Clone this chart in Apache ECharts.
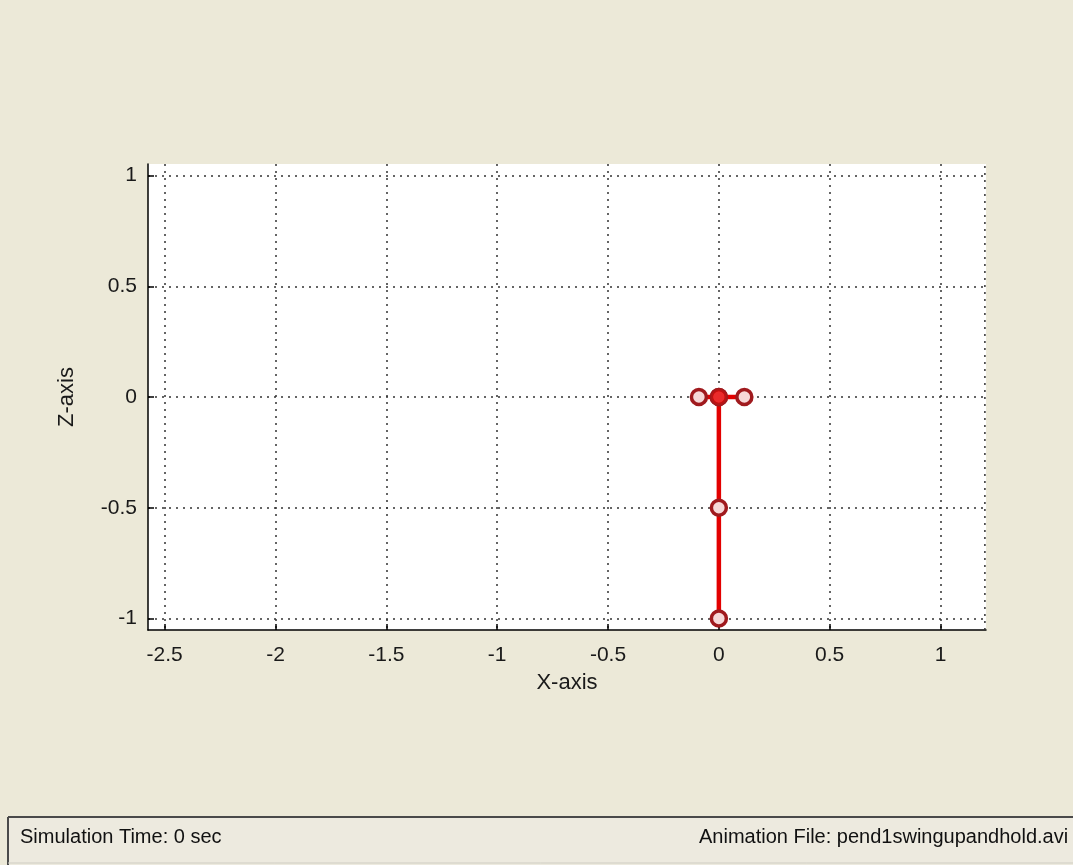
<!DOCTYPE html>
<html>
<head>
<meta charset="utf-8">
<script src="https://cdn.jsdelivr.net/npm/echarts@6/dist/echarts.min.js"></script>
<style>
html,body{margin:0;padding:0;background:#ECE9D8;}
#chart{width:1073px;height:865px;}
</style>
</head>
<body>
<div id="chart"></div>
<script>
// ---- data ----
var xTicks = [-2.5, -2, -1.5, -1, -0.5, 0, 0.5, 1];
var zTicks = [-1, -0.5, 0, 0.5, 1];
var xRange = [-2.575, 1.205];
var zRange = [-1.052, 1.052];
var cartX = [-0.09, 0, 0.115];
var cartZ = [0, 0, 0];
var poleX = [0, 0, 0];
var poleZ = [0, -0.5, -1];
var pivotX = [0];
var pivotZ = [0];
var trackEndX = [1.2];
var statusLeft = 'Simulation Time: 0 sec';
var statusRight = 'Animation File: pend1swingupandhold.avi';

function pairs(xs, zs){ return xs.map(function(v,i){ return [v, zs[i]]; }); }

var gridDot = {color:'#333', width:1.5, type:[2,5]};
var lab = {color:'#1a1a1a', fontFamily:'Liberation Sans', fontSize:21};
var nameLab = {color:'#1a1a1a', fontFamily:'Liberation Sans', fontSize:22};
var ringStyle = {color:'#f7d8d8', borderColor:'#a01a1e', borderWidth:3.5};

var chart = echarts.init(document.getElementById('chart'), null, {renderer:'canvas'});
chart.setOption({
  animation:false,
  backgroundColor:'#ECE9D8',
  grid:{left:148, right:87, top:164, bottom:235, show:true, backgroundColor:'#ffffff', borderWidth:0},
  xAxis:{
    type:'value', min:xRange[0], max:xRange[1],
    name:'X-axis', nameLocation:'middle', nameGap:42,
    nameTextStyle:nameLab,
    axisLine:{show:true, onZero:false, lineStyle:{color:'#000', width:1.5}},
    axisTick:{show:true, inside:true, length:6, customValues:xTicks, lineStyle:{color:'#000', width:1.5}},
    axisLabel:Object.assign({customValues:xTicks, margin:15, formatter:function(v){return String(v);}}, lab),
    splitLine:{show:true, lineStyle:gridDot}
  },
  yAxis:{
    type:'value', min:zRange[0], max:zRange[1],
    name:'Z-axis', nameLocation:'middle', nameGap:70, nameRotate:90,
    nameTextStyle:nameLab,
    axisLine:{show:true, onZero:false, lineStyle:{color:'#000', width:1.5}},
    axisTick:{show:true, inside:true, length:6, customValues:zTicks, lineStyle:{color:'#000', width:1.5}},
    axisLabel:Object.assign({customValues:zTicks, margin:11, formatter:function(v){return String(v);}}, lab),
    splitLine:{show:true, lineStyle:gridDot}
  },
  series:[
    {
      type:'line', name:'track', data:pairs(trackEndX.concat(trackEndX), [zRange[0], zRange[1]]),
      symbol:'none', lineStyle:gridDot, silent:true, z:1
    },
    {
      type:'line', name:'cart', data:pairs(cartX, cartZ),
      symbol:'circle', symbolSize:15, showAllSymbol:true,
      lineStyle:{color:'#e30000', width:4.5},
      itemStyle:ringStyle,
      z:3
    },
    {
      type:'line', name:'pole', data:pairs(poleX, poleZ),
      symbol:'circle', symbolSize:15, showAllSymbol:true,
      lineStyle:{color:'#e30000', width:4.5},
      itemStyle:ringStyle,
      z:3
    },
    {
      type:'scatter', name:'pivot', data:pairs(pivotX, pivotZ),
      symbol:'circle', symbolSize:14,
      itemStyle:{color:'#e60000', borderColor:'#b81616', borderWidth:2},
      z:4
    }
  ],
  graphic:[
    {type:'rect', left:8, top:817, shape:{width:1065, height:48}, style:{fill:'#EDEADF'}, silent:true},
    {type:'line', shape:{x1:8, y1:817, x2:1073, y2:817}, style:{stroke:'#4a4a4a', lineWidth:2}, silent:true},
    {type:'line', shape:{x1:8, y1:817, x2:8, y2:865}, style:{stroke:'#4a4a4a', lineWidth:2}, silent:true},
    {type:'line', shape:{x1:8, y1:863, x2:1073, y2:863}, style:{stroke:'#cfcdc2', lineWidth:1}, silent:true},
    {type:'text', left:20, top:827, style:{text:statusLeft, fill:'#111', font:'20px "Liberation Sans"'}, silent:true},
    {type:'text', left:699, top:827, style:{text:statusRight, fill:'#111', font:'20px "Liberation Sans"'}, silent:true}
  ]
});
</script>
</body>
</html>
